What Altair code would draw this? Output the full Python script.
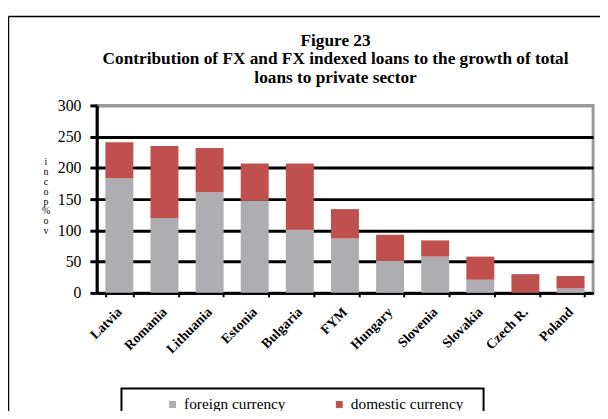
import altair as alt
import pandas as pd

countries = ["Latvia", "Romania", "Lithuania", "Estonia", "Bulgaria", "FYM",
             "Hungary", "Slovenia", "Slovakia", "Czech R.", "Poland"]
foreign = [184, 120, 161, 148, 101, 87, 51, 58, 21, 0, 7]
domestic = [57, 115, 71, 59, 106, 47, 42, 26, 37, 30, 20]
series_names = ["foreign currency", "domestic currency"]
series_colors = ["#aeaeb2", "#c0504d"]
y_ticks = [0, 50, 100, 150, 200, 250, 300]
title_lines = ["Figure 23",
               "Contribution of FX and FX indexed loans to the growth of total",
               "loans to private sector"]
y_title_lines = ["i", "n", "c", "o", "p", "%", "o", "v"]

rows = []
for c, f, d in zip(countries, foreign, domestic):
    rows.append({"country": c, "series": series_names[0], "value": f, "ord": 0})
    rows.append({"country": c, "series": series_names[1], "value": d, "ord": 1})
df = pd.DataFrame(rows)

SERIF = "Liberation Serif"

bars = alt.Chart(df).mark_bar().encode(
    x=alt.X("country:N", sort=countries,
            scale=alt.Scale(paddingInner=0.38, paddingOuter=0.19),
            axis=alt.Axis(title=None, labelAngle=-45, labelAlign="right",
                          labelBaseline="middle", labelFont=SERIF,
                          labelFontSize=14, labelFontWeight="bold",
                          labelColor="black", labelPadding=13,
                          domainColor="black", domainWidth=3,
                          tickColor="black", tickWidth=2, tickSize=4,
                          tickBand="extent", grid=False)),
    y=alt.Y("value:Q", stack="zero",
            scale=alt.Scale(domain=[0, 300], nice=False),
            axis=alt.Axis(values=y_ticks, title=y_title_lines, titleAngle=0,
                          titleFont=SERIF, titleFontSize=10,
                          titleFontWeight="normal", titleLineHeight=10,
                          titleX=-52, titleY=52, titleAlign="center",
                          titleBaseline="top", titleColor="black",
                          labelFont=SERIF, labelFontSize=16,
                          labelColor="black", labelPadding=9,
                          domainColor="black", domainWidth=3,
                          tickColor="black", tickWidth=3, tickSize=7,
                          grid=True, gridWidth=3,
                          gridColor={"condition": {"test": "datum.value == 300",
                                                   "value": "#9a9a9a"},
                                     "value": "black"})),
    color=alt.Color("series:N",
                    scale=alt.Scale(domain=series_names, range=series_colors),
                    legend=alt.Legend(orient="none", legendX=69, legendY=295,
                                      direction="horizontal", title=None,
                                      symbolType="square", symbolSize=49,
                                      symbolStrokeWidth=0,
                                      labelFont=SERIF, labelFontSize=15.5,
                                      labelColor="black", labelOffset=4,
                                      columnPadding=46, padding=0)),
    order=alt.Order("ord:Q"),
)

dummy = pd.DataFrame({"t": ["\n".join(title_lines)]})

title = alt.Chart(dummy).mark_text(
    font=SERIF, fontSize=17.5, fontWeight="bold", lineBreak="\n",
    lineHeight=18.5, align="center", baseline="alphabetic", color="black"
).encode(text="t:N", x=alt.value(242), y=alt.value(-60))

frame_left = alt.Chart(dummy).mark_rule(color="black", strokeWidth=1.5).encode(
    x=alt.value(-89.5), y=alt.value(-90), y2=alt.value(400))
frame_top = alt.Chart(dummy).mark_rule(color="black", strokeWidth=1.5).encode(
    x=alt.value(-89.5), x2=alt.value(520), y=alt.value(-90))

legend_box = alt.Chart(dummy).mark_rect(
    fill="white", fillOpacity=0, stroke="black", strokeWidth=2
).encode(x=alt.value(25), x2=alt.value(392), y=alt.value(287), y2=alt.value(340))

chart = alt.layer(frame_left, frame_top, legend_box, bars, title).properties(
    width=503, height=190,
    autosize=alt.AutoSizeParams(type="none"),
    padding={"left": 90, "top": 96, "right": 7, "bottom": 117},
    background="white",
).configure_view(stroke="#9a9a9a", strokeWidth=3)

chart.save("out.html", embed_options={"renderer": "svg", "actions": False})
